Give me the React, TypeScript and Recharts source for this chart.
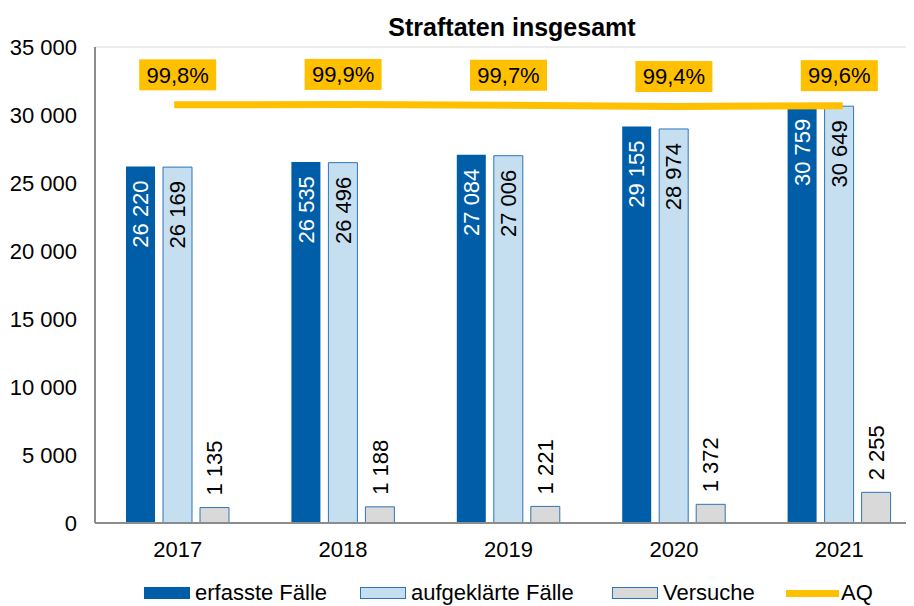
import React from 'react';
import { ComposedChart, Bar, Line, XAxis, YAxis, CartesianGrid, LabelList } from 'recharts';

const years = ['2017', '2018', '2019', '2020', '2021'];
const erfassteFaelle = [26220, 26535, 27084, 29155, 30759];
const aufgeklaerteFaelle = [26169, 26496, 27006, 28974, 30649];
const versuche = [1135, 1188, 1221, 1372, 2255];
const aufklaerungsquote = [99.8, 99.9, 99.7, 99.4, 99.6];
const yTicks = [0, 5000, 10000, 15000, 20000, 25000, 30000, 35000];

const data = years.map((jahr, i) => ({
  jahr,
  erfasst: erfassteFaelle[i],
  aufgeklaert: aufgeklaerteFaelle[i],
  versuche: versuche[i],
  aq: aufklaerungsquote[i],
}));

const FONT = '"Liberation Sans", Arial, sans-serif';
const DARK = '#005EA8';
const LIGHT = '#C6DFF0';
const GREY = '#D9D9D9';
const BORDER = '#2E75B6';
const YELLOW = '#FFC000';

// 26220 -> "26 220"
const fmt = (v: number) => String(v).replace(/\B(?=(\d{3})+(?!\d))/g, ' ');

// label inside the bar, reading upwards, ending just below the top
const insideLabel = (color: string) => (props: any) => {
  const { x, y, width, value } = props;
  const cx = x + width / 2;
  const ty = y + 14;
  return (
    <text x={cx} y={ty} transform={`rotate(-90 ${cx} ${ty})`} textAnchor="end" dy="0.35em"
      fill={color} fontSize={22} fontFamily={FONT}>
      {fmt(value)}
    </text>
  );
};

// label above the bar, reading upwards
const aboveLabel = (props: any) => {
  const { x, y, width, value } = props;
  const cx = x + width / 2;
  const ty = y - 12;
  return (
    <text x={cx} y={ty} transform={`rotate(-90 ${cx} ${ty})`} textAnchor="start" dy="0.35em"
      fill="#000" fontSize={22} fontFamily={FONT}>
      {fmt(value)}
    </text>
  );
};

const aqLabel = (props: any) => {
  const { x, y, value } = props;
  const cy = y - 30;
  return (
    <g>
      <rect x={x - 38.5} y={cy - 15.5} width={77} height={31} fill={YELLOW} />
      <text x={x} y={cy} textAnchor="middle" dy="0.35em" fontSize={22} fontFamily={FONT} fill="#000">
        {value.toFixed(1).replace('.', ',') + '%'}
      </text>
    </g>
  );
};

const legendItems = [
  { name: 'erfasste Fälle', fill: DARK, stroke: DARK, left: 136 },
  { name: 'aufgeklärte Fälle', fill: LIGHT, stroke: BORDER, left: 352 },
  { name: 'Versuche', fill: GREY, stroke: BORDER, left: 604 },
  { name: 'AQ', fill: YELLOW, stroke: YELLOW, left: 778, line: true },
];

export default function App() {
  return (
    <div style={{ position: 'relative', width: 906, height: 598, overflow: 'hidden', fontFamily: FONT }}>
      <div style={{ position: 'absolute', left: 0, width: 1008, top: 7, textAlign: 'center', fontSize: 25, lineHeight: '25px', fontWeight: 'bold', color: '#000' }}>
        Straftaten insgesamt
      </div>
      <ComposedChart width={930} height={598} data={data} margin={{ top: 39, right: 16, bottom: 0, left: 0 }}
        barSize={29} barGap={8}>
        <CartesianGrid vertical={false} stroke="#D9D9D9" />
        <XAxis dataKey="jahr" height={83} tickLine={false} tickSize={0} tickMargin={18}
          axisLine={{ stroke: '#8C8C8C', strokeWidth: 2 }}
          tick={{ fill: '#000', fontSize: 22, fontFamily: FONT }} />
        <YAxis yAxisId="left" width={87} domain={[0, 35000]} ticks={yTicks} interval={0}
          tickFormatter={fmt} tickLine={false} tickSize={0} tickMargin={18}
          axisLine={{ stroke: '#8C8C8C', strokeWidth: 2 }}
          tick={{ fill: '#000', fontSize: 22, fontFamily: FONT }} />
        <YAxis yAxisId="aq" orientation="right" hide domain={[0, 113.6]} />
        <Bar yAxisId="left" dataKey="erfasst" name="erfasste Fälle" fill={DARK} isAnimationActive={false}>
          <LabelList dataKey="erfasst" content={insideLabel('#fff')} />
        </Bar>
        <Bar yAxisId="left" dataKey="aufgeklaert" name="aufgeklärte Fälle" fill={LIGHT} stroke={BORDER} strokeWidth={1} isAnimationActive={false}>
          <LabelList dataKey="aufgeklaert" content={insideLabel('#000')} />
        </Bar>
        <Bar yAxisId="left" dataKey="versuche" name="Versuche" fill={GREY} stroke={BORDER} strokeWidth={1} isAnimationActive={false}>
          <LabelList dataKey="versuche" content={aboveLabel} />
        </Bar>
        <Line yAxisId="aq" dataKey="aq" name="AQ" type="linear" stroke={YELLOW} strokeWidth={7}
          strokeLinecap="square" dot={false} activeDot={false} isAnimationActive={false}>
          <LabelList dataKey="aq" content={aqLabel} />
        </Line>
      </ComposedChart>
      {legendItems.map((it) => (
        <div key={it.name} style={{ position: 'absolute', left: it.left, top: 574, height: 22, display: 'flex', alignItems: 'center', fontSize: 22, lineHeight: '22px', color: '#000' }}>
          {it.line ? (
            <div style={{ width: 53, height: 7, background: it.fill }} />
          ) : (
            <div style={{ width: 44, height: 10, background: it.fill, border: `1px solid ${it.stroke}` }} />
          )}
          <span style={{ marginLeft: it.line ? 2 : 5 }}>{it.name}</span>
        </div>
      ))}
    </div>
  );
}
